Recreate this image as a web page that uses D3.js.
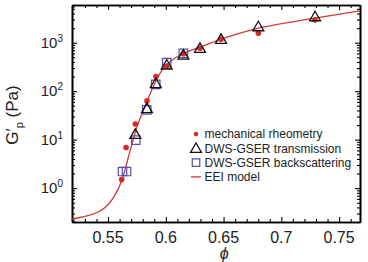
<!DOCTYPE html>
<html>
<head>
<meta charset="utf-8">
<script src="https://cdn.jsdelivr.net/npm/d3@7"></script>
<style>
  body { margin: 0; background: #fff; }
  text { font-family: Arial, "Liberation Sans", Helvetica, sans-serif; }
</style>
</head>
<body>
<svg id="chart" width="368" height="262"></svg>
<script>
// data
var rheoPhi  = [0.5618, 0.5656, 0.5736, 0.5837, 0.5915, 0.6008, 0.6152, 0.6296, 0.6478, 0.6801, 0.7292];
var rheoG    = [1.5, 6.9, 21, 63, 200, 330, 590, 770, 1180, 1570, 2960];

var transPhi = [0.5736, 0.5837, 0.5913, 0.6008, 0.6152, 0.6296, 0.6478, 0.6801, 0.7292];
var transG   = [13, 44, 145, 350, 560, 770, 1180, 2150, 3460];

var backPhi  = [0.5625, 0.5660, 0.5740, 0.5835, 0.5913, 0.6008, 0.6152];
var backG    = [2.2, 2.2, 9.8, 41, 138, 390, 605];

var modelPhi = [0.515, 0.519, 0.530, 0.540, 0.5474, 0.555, 0.562, 0.569, 0.5748, 0.582, 0.5878, 0.595, 0.6051, 0.6152, 0.6296, 0.6478, 0.6801, 0.7292, 0.768];
var modelG   = [0.21, 0.23, 0.26, 0.31, 0.4, 0.65, 1.45, 5.8, 17.5, 48, 106, 234, 430, 600, 810, 1180, 1990, 3210, 4540];

var xMajor = [0.55, 0.6, 0.65, 0.7, 0.75];
var xLabels = ["0.55", "0.6", "0.65", "0.7", "0.75"];
var yMajor = [1, 10, 100, 1000];
var yExp = ["0", "1", "2", "3"];

var legendNames = ["mechanical rheometry", "DWS-GSER transmission", "DWS-GSER backscattering", "EEI model"];

var margin = {left: 72, top: 5, right: 8, bottom: 40},
    width = 368 - margin.left - margin.right,
    height = 262 - margin.top - margin.bottom;

var x = d3.scaleLinear().domain([0.5188, 0.7681]).range([0, width]);
var y = d3.scaleLog().domain([0.2, 6000]).range([height, 0]);

var svg = d3.select("#chart");
var g = svg.append("g").attr("transform", "translate(" + margin.left + "," + margin.top + ")");

// minor ticks
var xMinor = d3.range(52, 77).map(function(d) { return d / 100; })
    .filter(function(d) { return Math.abs(d * 20 - Math.round(d * 20)) > 1e-6; });
var yMinor = [];
[0.1, 1, 10, 100, 1000].forEach(function(dec) {
    for (var k = 2; k <= 9; k++) {
        var v = dec * k;
        if (v >= 0.2 && v <= 6000) yMinor.push(v);
    }
});

function drawAxis(axis, translate) {
    var a = g.append("g").attr("transform", translate).call(axis);
    a.selectAll("text").remove();
    a.select(".domain").attr("stroke-width", 1.6);
    a.selectAll(".tick line").attr("stroke-width", 1.1);
    return a;
}

drawAxis(d3.axisBottom(x).tickValues(xMajor).tickSize(-5).tickSizeOuter(0), "translate(0," + height + ")");
drawAxis(d3.axisBottom(x).tickValues(xMinor).tickSize(-3).tickSizeOuter(0), "translate(0," + height + ")");
drawAxis(d3.axisTop(x).tickValues(xMajor).tickSize(-5).tickSizeOuter(0), "translate(0,0)");
drawAxis(d3.axisTop(x).tickValues(xMinor).tickSize(-3).tickSizeOuter(0), "translate(0,0)");
drawAxis(d3.axisLeft(y).tickValues(yMajor).tickSize(-5).tickSizeOuter(0), "translate(0,0)");
drawAxis(d3.axisLeft(y).tickValues(yMinor).tickSize(-3).tickSizeOuter(0), "translate(0,0)");
drawAxis(d3.axisRight(y).tickValues(yMajor).tickSize(-5).tickSizeOuter(0), "translate(" + width + ",0)");
drawAxis(d3.axisRight(y).tickValues(yMinor).tickSize(-3).tickSizeOuter(0), "translate(" + width + ",0)");

// x tick labels
g.selectAll(".xlab").data(xMajor).enter().append("text")
    .attr("x", function(d) { return x(d); })
    .attr("y", height + 21)
    .attr("text-anchor", "middle")
    .style("font-size", "16px")
    .attr("fill", "#222")
    .text(function(d, i) { return xLabels[i]; });

// y tick labels, 10 with superscript exponent
var ylab = g.selectAll(".ylab").data(yMajor).enter().append("text")
    .attr("x", -9)
    .attr("y", function(d) { return y(d) + 5; })
    .attr("text-anchor", "end")
    .style("font-size", "15px")
    .attr("fill", "#222");
ylab.append("tspan").text("10");
ylab.append("tspan").attr("dy", -6).style("font-size", "10px").text(function(d, i) { return yExp[i]; });

// axis titles
g.append("text")
    .attr("x", x(0.6505))
    .attr("y", height + 37)
    .attr("text-anchor", "middle")
    .style("font-size", "16px")
    .style("font-style", "italic")
    .attr("fill", "#222")
    .text("ϕ");

var yt = svg.append("text")
    .attr("transform", "translate(18,115) rotate(-90)")
    .attr("text-anchor", "middle")
    .style("font-size", "17px")
    .attr("fill", "#222");
yt.append("tspan").text("G′");
yt.append("tspan").attr("dy", 5).style("font-size", "11px").text("p");
yt.append("tspan").attr("dy", -5).text(" (Pa)");

// clip for the model line
g.append("clipPath").attr("id", "clip").append("rect").attr("width", width).attr("height", height);

var line = d3.line()
    .x(function(d) { return x(d[0]); })
    .y(function(d) { return y(d[1]); })
    .curve(d3.curveMonotoneX);

var modelData = modelPhi.map(function(p, i) { return [p, modelG[i]]; });
g.append("path")
    .datum(modelData)
    .attr("clip-path", "url(#clip)")
    .attr("d", line)
    .attr("fill", "none")
    .attr("stroke", "#d03838")
    .attr("stroke-width", 1.3);

var tri = d3.symbol().type(d3.symbolTriangle).size(52);
var sq = d3.symbol().type(d3.symbolSquare).size(72);

// backscattering squares
g.selectAll(".sq").data(backPhi).enter().append("path")
    .attr("transform", function(d, i) { return "translate(" + x(d) + "," + y(backG[i]) + ")"; })
    .attr("d", sq)
    .attr("fill", "none")
    .attr("stroke", "#5050b0")
    .attr("stroke-width", 1.2);

// rheometry dots
g.selectAll(".dot").data(rheoPhi).enter().append("circle")
    .attr("cx", function(d) { return x(d); })
    .attr("cy", function(d, i) { return y(rheoG[i]); })
    .attr("r", 2.8)
    .attr("fill", "#d42a2a");

// transmission triangles
g.selectAll(".tri").data(transPhi).enter().append("path")
    .attr("transform", function(d, i) { return "translate(" + x(d) + "," + (y(transG[i]) + 1) + ")"; })
    .attr("d", tri)
    .attr("fill", "none")
    .attr("stroke", "#111")
    .attr("stroke-width", 1.3);

// legend
var legend = svg.append("g");
var lx = 196, ly0 = 134, ldy = 14.3;
legendNames.forEach(function(name, i) {
    var cy = ly0 + i * ldy;
    legend.append("text")
        .attr("x", 204.5)
        .attr("y", cy + 4.3)
        .style("font-size", "12px")
        .attr("fill", "#222")
        .text(name);
});
legend.append("circle").attr("cx", lx).attr("cy", ly0).attr("r", 2.3).attr("fill", "#d42a2a");
legend.append("path").attr("transform", "translate(" + lx + "," + (ly0 + ldy + 1) + ")")
    .attr("d", tri).attr("fill", "none").attr("stroke", "#111").attr("stroke-width", 1.3);
legend.append("path").attr("transform", "translate(" + lx + "," + (ly0 + 2 * ldy) + ")")
    .attr("d", d3.symbol().type(d3.symbolSquare).size(56)).attr("fill", "none").attr("stroke", "#5050b0").attr("stroke-width", 1.2);
legend.append("line").attr("x1", lx - 5).attr("x2", lx + 5)
    .attr("y1", ly0 + 3 * ldy).attr("y2", ly0 + 3 * ldy)
    .attr("stroke", "#d03838").attr("stroke-width", 1.3);
</script>
</body>
</html>
